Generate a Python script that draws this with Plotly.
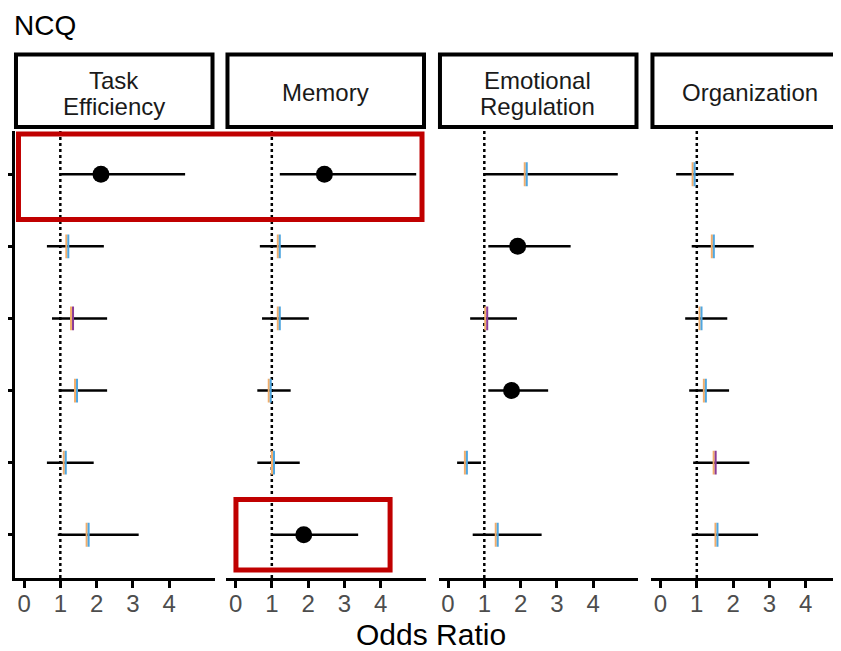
import plotly.graph_objects as go

# The page body has an 8px margin, so the figure is drawn 8px in from the window's corner.
OFF = 8
WIN_W, WIN_H = 841, 651
W, H = WIN_W - OFF, WIN_H - OFF

# ---------------- data ----------------
panel_labels = [["Task", "Efficiency"], ["Memory"], ["Emotional", "Regulation"], ["Organization"]]
rows = [1, 2, 3, 4, 5, 6]
x_ticks = [0, 1, 2, 3, 4]

task_or = [2.12, 1.20, 1.33, 1.44, 1.13, 1.76]
task_lo = [1.02, 0.63, 0.77, 0.95, 0.63, 0.93]
task_hi = [4.44, 2.20, 2.29, 2.29, 1.92, 3.16]
task_sig = [1, 0, 0, 0, 0, 0]
task_col = ["b", "b", "p", "b", "b", "b"]

mem_or = [2.45, 1.20, 1.20, 0.95, 1.04, 1.88]
mem_lo = [1.22, 0.67, 0.73, 0.60, 0.60, 1.01]
mem_hi = [4.98, 2.21, 2.02, 1.52, 1.77, 3.38]
mem_sig = [1, 0, 0, 0, 0, 1]
mem_col = ["b", "b", "b", "b", "b", "b"]

emo_or = [2.15, 1.92, 1.06, 1.75, 0.50, 1.35]
emo_lo = [1.00, 1.11, 0.61, 1.11, 0.25, 0.68]
emo_hi = [4.68, 3.38, 1.90, 2.76, 0.91, 2.58]
emo_sig = [0, 1, 0, 1, 0, 0]
emo_col = ["b", "b", "p", "b", "b", "b"]

org_or = [0.92, 1.45, 1.11, 1.23, 1.50, 1.55]
org_lo = [0.43, 0.86, 0.68, 0.79, 0.90, 0.86]
org_hi = [2.02, 2.57, 1.84, 1.89, 2.45, 2.69]
org_sig = [0, 0, 0, 0, 0, 0]
org_col = ["b", "b", "b", "b", "p", "b"]

panels = [
    (task_or, task_lo, task_hi, task_sig, task_col),
    (mem_or, mem_lo, mem_hi, mem_sig, mem_col),
    (emo_or, emo_lo, emo_hi, emo_sig, emo_col),
    (org_or, org_lo, org_hi, org_sig, org_col),
]
ref_value = 1

# ---------------- layout helpers (arguments are window pixels) ----------------
def fx(p):
    return (p - OFF) / W

def fy(p):
    return 1 - (p - OFF) / H

unit = 36.36           # pixels per odds-ratio unit
x_lo = -0.25
starts = [13, 225, 438, 651]
panel_w = 200
top_px, bot_px = 131, 578

tick_colors = {"b": "#4FA6E0", "p": "#8B3A96"}
orange = "#F2AE6B"
fontfam = "Liberation Sans, Arial, sans-serif"

fig = go.Figure()
shapes = []
annotations = []

for i, (orv, lo, hi, sig, col) in enumerate(panels):
    xa = "x" if i == 0 else f"x{i+1}"
    plus = [h - o for h, o in zip(hi, orv)]
    minus = [o - l for o, l in zip(orv, lo)]
    # confidence intervals
    fig.add_trace(go.Scatter(
        x=orv, y=rows, mode="markers", xaxis=xa, yaxis="y",
        marker=dict(size=1, color="rgba(0,0,0,0)"),
        error_x=dict(type="data", symmetric=False, array=plus, arrayminus=minus,
                     width=0, thickness=2.5, color="black"),
        showlegend=False, hoverinfo="skip"))
    # non-significant estimates: thin vertical ticks
    ns_x = [o for o, s in zip(orv, sig) if not s]
    ns_y = [r for r, s in zip(rows, sig) if not s]
    ns_c = [tick_colors[c] for c, s in zip(col, sig) if not s]
    fig.add_trace(go.Scatter(
        x=[v - 0.035 for v in ns_x], y=ns_y, mode="markers", xaxis=xa, yaxis="y",
        marker=dict(symbol="line-ns", size=17, line=dict(width=2, color=orange)),
        showlegend=False, hoverinfo="skip"))
    fig.add_trace(go.Scatter(
        x=[v + 0.02 for v in ns_x], y=ns_y, mode="markers", xaxis=xa, yaxis="y",
        marker=dict(symbol="line-ns", size=17, line=dict(width=2, color=ns_c)),
        showlegend=False, hoverinfo="skip"))
    # significant estimates: black dots
    s_x = [o for o, s in zip(orv, sig) if s]
    s_y = [r for r, s in zip(rows, sig) if s]
    fig.add_trace(go.Scatter(
        x=s_x, y=s_y, mode="markers", xaxis=xa, yaxis="y",
        marker=dict(symbol="circle", size=17, color="black"),
        showlegend=False, hoverinfo="skip"))

    start = starts[i]
    end = min(start + panel_w, WIN_W)
    x_hi = x_lo + (end - start) / unit
    fig.update_layout(**{
        ("xaxis" if i == 0 else f"xaxis{i+1}"): dict(
            domain=[fx(start), fx(end)], range=[x_lo, x_hi], anchor="y",
            tickvals=x_ticks, ticks="outside", ticklen=7, tickwidth=2.5, tickcolor="black",
            ticklabelstandoff=-5,
            showline=True, linewidth=2.5, linecolor="black", showgrid=False, zeroline=False,
            tickfont=dict(size=24, color="#4D4D4D", family=fontfam))
    })
    # reference line at OR = 1
    shapes.append(dict(type="line", xref=xa, yref="y domain", x0=ref_value, x1=ref_value,
                       y0=0, y1=1, line=dict(color="black", width=2.5, dash="dot"), layer="below"))
    # strip box
    shapes.append(dict(type="rect", xref="paper", yref="paper",
                       x0=fx(start + 1), x1=fx(start + 198), y0=fy(127), y1=fy(54.5),
                       line=dict(color="black", width=4), fillcolor="white"))
    cx = fx(start + 99)
    lbl = panel_labels[i]
    if len(lbl) == 1:
        annotations.append(dict(text=lbl[0], x=cx, y=fy(93), xref="paper", yref="paper",
                                showarrow=False, xanchor="center", yanchor="middle",
                                font=dict(size=24, color="#1A1A1A", family=fontfam)))
    else:
        for ln, ypx in zip(lbl, [80, 106]):
            annotations.append(dict(text=ln, x=cx, y=fy(ypx), xref="paper", yref="paper",
                                    showarrow=False, xanchor="center", yanchor="middle",
                                    font=dict(size=24, color="#1A1A1A", family=fontfam)))

# highlight boxes
red = "#C00000"
shapes.append(dict(type="rect", xref="paper", yref="paper",
                   x0=fx(16.5), x1=fx(421), y0=fy(219.5), y1=fy(134),
                   line=dict(color=red, width=5)))
shapes.append(dict(type="rect", xref="paper", yref="paper",
                   x0=fx(234.5), x1=fx(389), y0=fy(570), y1=fy(499.5),
                   line=dict(color=red, width=5)))

annotations.append(dict(text="NCQ", x=fx(10), y=1, xref="paper", yref="paper",
                        showarrow=False, xanchor="left", yanchor="top",
                        font=dict(size=28, color="black", family=fontfam)))
annotations.append(dict(text="Odds Ratio", x=fx(430.5), y=fy(634), xref="paper", yref="paper",
                        showarrow=False, xanchor="center", yanchor="middle",
                        font=dict(size=30, color="black", family=fontfam)))

fig.update_layout(
    width=W, height=H, margin=dict(l=0, r=0, t=0, b=0),
    paper_bgcolor="white", plot_bgcolor="white",
    yaxis=dict(domain=[fy(bot_px), fy(top_px)], range=[6.6, 0.4], anchor="x",
               tickvals=rows, showticklabels=False, ticks="outside", ticklen=7,
               tickwidth=2.5, tickcolor="black", showline=True, linewidth=2.5,
               linecolor="black", showgrid=False, zeroline=False),
    shapes=shapes, annotations=annotations,
)

fig.write_html("out.html")
